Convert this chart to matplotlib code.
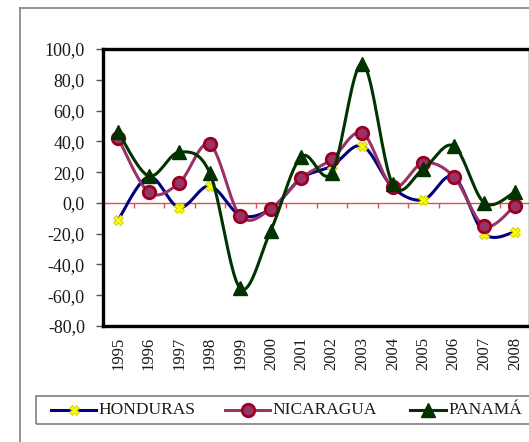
import numpy as np
import matplotlib
matplotlib.use("Agg")
import matplotlib.pyplot as plt
from matplotlib.lines import Line2D
from matplotlib.patches import Rectangle

years = ["1995", "1996", "1997", "1998", "1999", "2000", "2001",
         "2002", "2003", "2004", "2005", "2006", "2007", "2008"]
honduras = [-11, 17, -3, 11, -8, -4, 16, 24, 37, 10, 2, 17, -20, -19]
nicaragua = [42, 7, 13, 38, -8.5, -4, 16, 28.5, 45.5, 10.5, 26, 17, -15, -2]
panama = [46, 17.5, 33, 19.5, -55.5, -18, 30, 19.5, 90.5, 12, 22, 37, 0, 7]
y_ticks = [-80, -60, -40, -20, 0, 20, 40, 60, 80, 100]

W, H = 529, 442
fig = plt.figure(figsize=(W / 100, H / 100), dpi=100)
fig.patch.set_facecolor("white")
SERIF = ["Liberation Serif", "DejaVu Serif"]
TEXT_COLOR = "#1a1a1a"


def px(x, y):
    """pixel (from top-left) -> figure fraction"""
    return x / W, 1 - y / H


def smooth(xs, ys, n=24):
    """Excel-style smoothed line through the points (cubic Bezier segments)."""
    p = np.column_stack([xs, ys]).astype(float)
    out = []
    for i in range(len(p) - 1):
        p0 = p[max(i - 1, 0)]
        p1 = p[i]
        p2 = p[i + 1]
        p3 = p[min(i + 2, len(p) - 1)]
        c1 = p1 + (p2 - p0) / 6
        c2 = p2 - (p3 - p1) / 6
        t = np.linspace(0, 1, n)[:, None]
        seg = ((1 - t) ** 3) * p1 + 3 * ((1 - t) ** 2) * t * c1 + 3 * (1 - t) * t ** 2 * c2 + t ** 3 * p2
        out.append(seg if i == 0 else seg[1:])
    s = np.vstack(out)
    return s[:, 0], s[:, 1]


# chart-area border (left and top edges)
fig.add_artist(Line2D([20 / W, 20 / W], [0, 1 - 8 / H], transform=fig.transFigure,
                      color="#7f7f7f", lw=1.2))
fig.add_artist(Line2D([20 / W, 1.0], [1 - 8 / H, 1 - 8 / H], transform=fig.transFigure,
                      color="#7f7f7f", lw=1.2))

left, top, right, bottom = 103, 49, 530, 326
ax = fig.add_axes([left / W, 1 - bottom / H, (right - left) / W, (bottom - top) / H])
x = np.arange(len(years))
ax.set_xlim(-0.5, len(years) - 0.5)
ax.set_ylim(-80, 100)

for sp in ax.spines.values():
    sp.set_linewidth(2.4)
    sp.set_color("black")

# zero line with category-boundary ticks
ax.axhline(0, color="#e05050", lw=1.0, zorder=1)
ax.vlines(np.arange(0.5, len(years) - 0.5, 1.0), -3, 0, color="#e05050", lw=1.0, zorder=1)

series = [
    (honduras, "HONDURAS", "#000080", dict(marker="X", ms=7, mfc="#ffff00", mec="#d8d800", mew=0.8)),
    (nicaragua, "NICARAGUA", "#993366", dict(marker="o", ms=9, mfc="#993366", mec="#990022", mew=2.0)),
    (panama, "PANAMÁ", "#003300", dict(marker="^", ms=10, mfc="#003300", mec="#003300", mew=1)),
]
for k, (vals, name, col, mk) in enumerate(series):
    sx, sy = smooth(x, vals)
    ax.plot(sx, sy, color=col, lw=2.2, zorder=3 + k, solid_capstyle="round")
    ax.plot(x, vals, ls="none", zorder=3 + k, **mk)

ax.set_yticks(y_ticks)
ax.set_yticklabels([f"{v:.1f}".replace(".", ",") for v in y_ticks], family=SERIF,
                   fontsize=13, color=TEXT_COLOR)
ax.tick_params(axis="y", length=5, width=1, color="#555555", pad=8, direction="out")
ax.set_xticks(x)
ax.set_xticklabels(years, rotation=90, family=SERIF, fontsize=12, color=TEXT_COLOR)
ax.tick_params(axis="x", length=0, pad=8)

# legend drawn in figure pixels
fig.add_artist(Rectangle(px(36, 424), (W + 10 - 36) / W, 28 / H, transform=fig.transFigure,
                         fill=False, ec="#7f7f7f", lw=1.2))
ly = 410
entries = [(51, 96, 98), (225, 270, 272), (410, 446, 448)]
for (x0, x1, tx), (vals, name, col, mk) in zip(entries, series):
    fig.add_artist(Line2D([x0 / W, x1 / W], [1 - ly / H] * 2, transform=fig.transFigure,
                          color=col, lw=2.2))
    fig.add_artist(Line2D([(x0 + x1) / 2 / W], [1 - ly / H], transform=fig.transFigure,
                          ls="none", **mk))
    fig.text(tx / W, 1 - ly / H, name, family=SERIF, fontsize=12.5, va="center", ha="left",
             color=TEXT_COLOR)

fig.savefig("out.png", dpi=100)
